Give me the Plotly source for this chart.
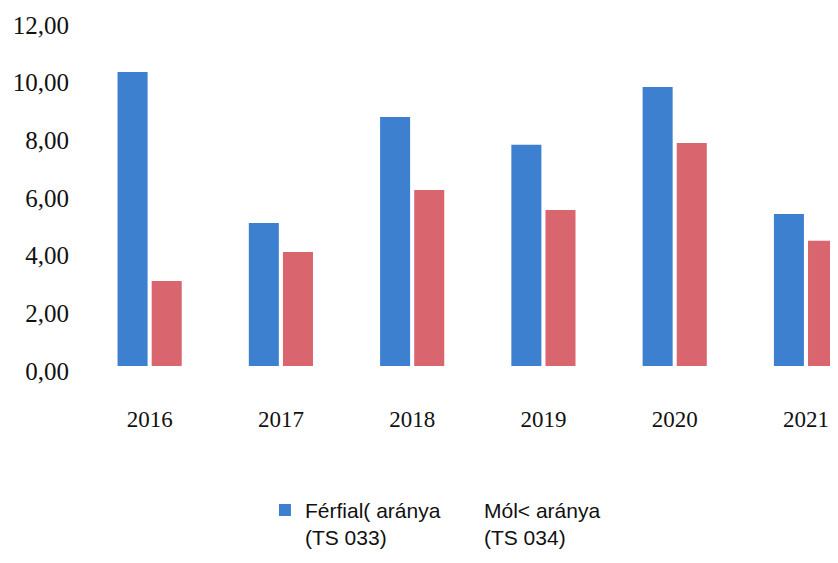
import plotly.graph_objects as go

years = ["2016", "2017", "2018", "2019", "2020", "2021"]
ferfiak = [10.2, 4.96, 8.64, 7.67, 9.68, 5.27]
nok = [2.95, 3.95, 6.1, 5.41, 7.73, 4.34]
name_ferfi = "Férfial( aránya<br>(TS 033)"
name_no = "Mól&lt; aránya<br>(TS 034)"
y_ticks = [0, 2, 4, 6, 8, 10, 12]

fig = go.Figure()
fig.add_trace(go.Bar(x=years, y=ferfiak, name=name_ferfi,
                     marker=dict(color="#3D80D0", line=dict(width=0))))
fig.add_trace(go.Bar(x=years, y=nok, name=name_no, showlegend=False,
                     marker=dict(color="#D9656F", line=dict(width=0))))
# legend entry for the second series (the reference shows no swatch for it)
fig.add_trace(go.Scatter(x=[None], y=[None], mode="markers", name=name_no,
                         marker=dict(color="rgba(0,0,0,0)", size=1)))

fig.update_layout(
    width=830, height=555,
    margin=dict(l=76, r=0, t=12, b=197),
    paper_bgcolor="white", plot_bgcolor="white",
    barmode="group", bargap=0.48, bargroupgap=0.12,
    separators=", ",
    showlegend=True,
    legend=dict(orientation="h", x=0.24, xanchor="left", y=-0.358, yanchor="top",
                valign="top", font=dict(family="Liberation Sans", size=21, color="#111"),
                traceorder="normal", itemclick=False, entrywidth=134),
    xaxis=dict(range=[-0.5, 5.244], showline=False, showgrid=False, zeroline=False,
               ticks="", tickfont=dict(family="Liberation Serif", size=23, color="#111"),
               ticklabelstandoff=37),
    yaxis=dict(range=[0, 12], tickvals=y_ticks, tickformat=".2f", showline=False,
               showgrid=False, zeroline=False, ticks="",
               tickfont=dict(family="Liberation Serif", size=25, color="#111"),
               ticklabelstandoff=14, ticklabelshift=5),
)

fig.write_html("out.html")
